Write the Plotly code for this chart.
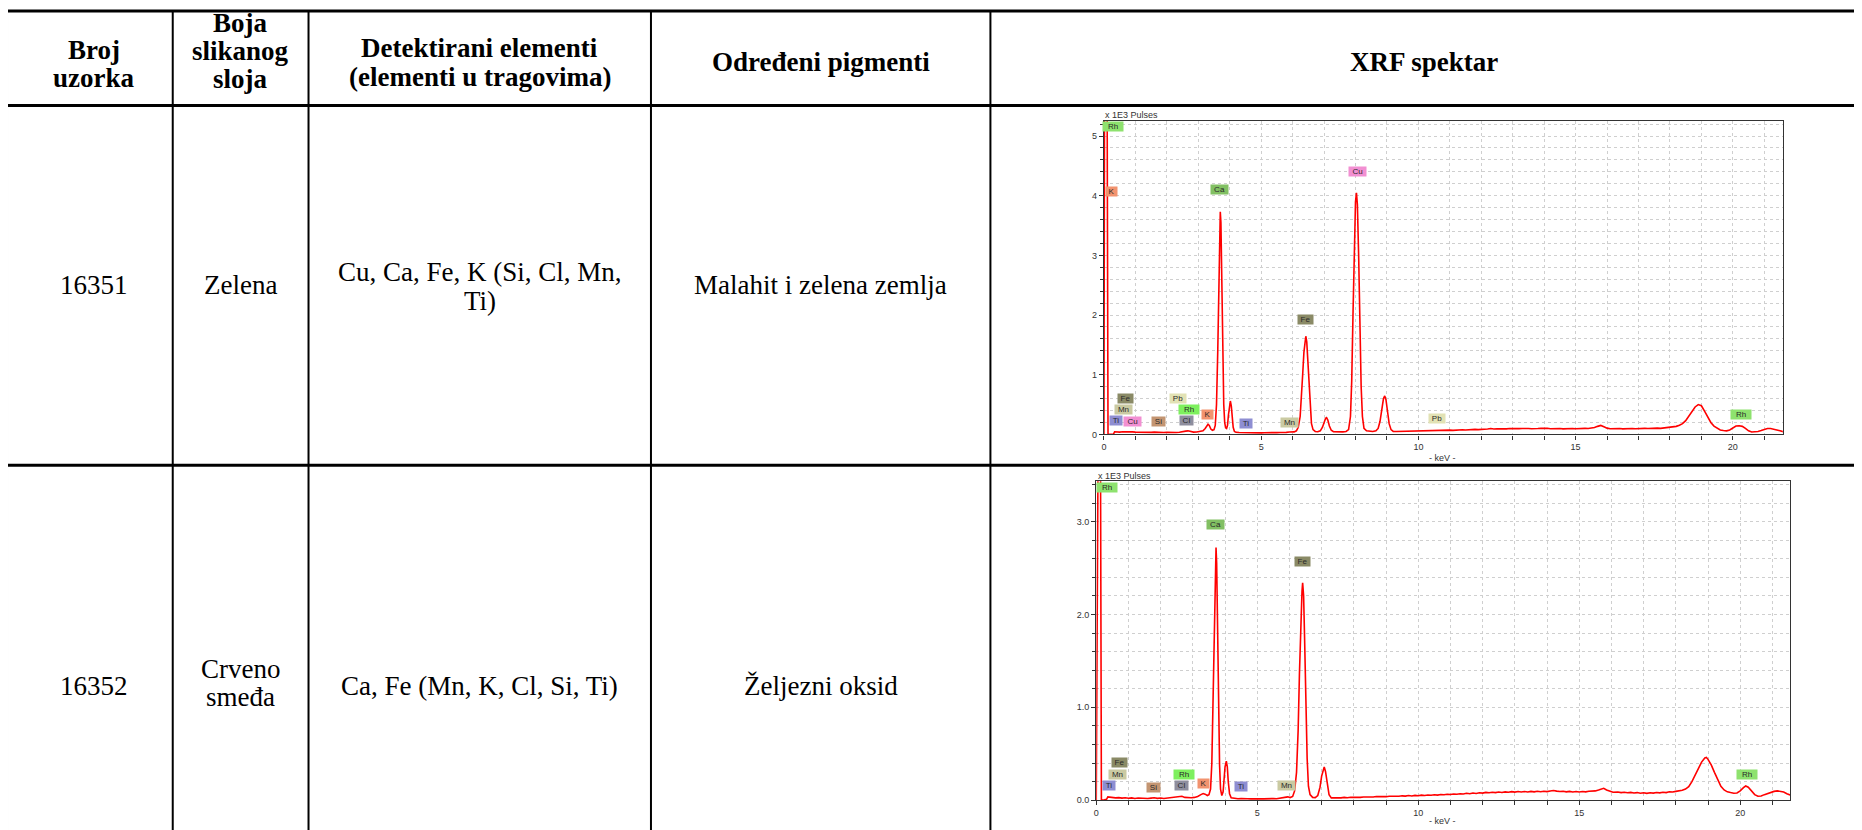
import plotly.graph_objects as go

# ---------------- data ----------------
table_header = ["Broj uzorka", "Boja slikanog sloja", "Detektirani elementi (elementi u tragovima)",
                "Određeni pigmenti", "XRF spektar"]
sample_ids = ["16351", "16352"]
layer_colours = ["Zelena", "Crveno smeđa"]
detected = ["Cu, Ca, Fe, K (Si, Cl, Mn, Ti)", "Ca, Fe (Mn, K, Cl, Si, Ti)"]
pigments = ["Malahit i zelena zemlja", "Željezni oksid"]

# spectrum 16351 (keV, x1E3 pulses)
s1_kev = [0.00, 0.02, 0.10, 0.13, 0.20, 0.30, 0.34,
          0.40, 0.50, 0.60, 0.70, 0.80, 0.90, 1.00, 1.10, 1.20, 1.30, 1.40, 1.50, 1.60, 1.70, 1.80, 1.90,
          2.00, 2.10, 2.20, 2.30, 2.40, 2.50, 2.60, 2.67, 2.75, 2.85, 2.95, 3.05, 3.15, 3.22, 3.28, 3.31,
          3.35, 3.40, 3.45, 3.50, 3.54, 3.58, 3.62, 3.65, 3.68, 3.70, 3.72, 3.75, 3.78, 3.81, 3.84, 3.87,
          3.90, 3.93, 3.96, 3.99, 4.02, 4.05, 4.08, 4.11, 4.15, 4.20, 4.30, 4.40, 4.50, 4.60, 4.70, 4.80,
          4.90, 5.00, 5.10, 5.20, 5.30, 5.40, 5.50, 5.60, 5.70, 5.80, 5.90, 5.98, 6.05, 6.12, 6.18, 6.24,
          6.28, 6.32, 6.36, 6.40, 6.42, 6.45, 6.48, 6.52, 6.56, 6.60, 6.65, 6.72, 6.80, 6.88, 6.95, 7.00,
          7.05, 7.08, 7.12, 7.17, 7.23, 7.30, 7.40, 7.50, 7.60, 7.70, 7.78, 7.84, 7.88, 7.92, 7.96, 8.00,
          8.03, 8.06, 8.10, 8.14, 8.18, 8.22, 8.27, 8.35, 8.45, 8.55, 8.65, 8.72, 8.78, 8.84, 8.89, 8.93,
          8.97, 9.02, 9.07, 9.13, 9.20, 9.30, 9.40, 9.50, 9.60, 9.70, 9.80, 9.90, 10.0, 10.1, 10.2, 10.3,
          10.4, 10.5, 10.6, 10.7, 10.8, 10.9, 11.0, 11.1, 11.2, 11.3, 11.4, 11.5, 11.6, 11.7, 11.8, 11.9,
          12.0, 12.1, 12.2, 12.3, 12.4, 12.5, 12.6, 12.7, 12.8, 12.9, 13.0, 13.1, 13.2, 13.3, 13.4, 13.5,
          13.6, 13.7, 13.8, 13.9, 14.0, 14.1, 14.2, 14.3, 14.4, 14.5, 14.6, 14.7, 14.8, 14.9, 15.0, 15.1,
          15.2, 15.3, 15.4, 15.5, 15.6, 15.7, 15.8, 15.9, 16.0, 16.1, 16.2, 16.3, 16.4, 16.5, 16.6, 16.7,
          16.8, 16.9, 17.0, 17.1, 17.2, 17.3, 17.4, 17.5, 17.6, 17.7, 17.8, 17.9, 18.0, 18.1, 18.2, 18.3,
          18.4, 18.5, 18.6, 18.7, 18.8, 18.9, 18.95, 19.0, 19.1, 19.2, 19.3, 19.4, 19.5, 19.6, 19.7, 19.8,
          19.9, 20.0, 20.1, 20.2, 20.3, 20.4, 20.5, 20.6, 20.7, 20.8, 20.9, 21.0, 21.1, 21.2, 21.3, 21.4,
          21.5, 21.6]
s1_cnt = [0.0, 6.0, 6.0, 0.0, 0.0, 0.0, 0.045,
          .042, .038, .045, .040, .036, .042, .038, .035, .040, .033, .037, .034, .038, .032, .036, .031,
          .035, .030, .034, .031, .036, .040, .055, .060, .045, .038, .040, .045, .060, .10, .15, .17,
          .15, .09, .07, .08, .15, .5, 1.4, 2.6, 3.5, 3.73, 3.55, 2.5, 1.3, .5, .2, .11,
          .10, .15, .33, .52, .56, .48, .28, .12, .05, .035, .032, .030, .033, .028, .031, .027,
          .030, .026, .029, .027, .031, .028, .030, .033, .031, .035, .040, .045, .042, .06, .12, .3,
          .6, 1.0, 1.38, 1.6, 1.645, 1.55, 1.25, .8, .4, .18, .08, .05, .045, .06, .12, .2,
          .27, .28, .24, .14, .07, .045, .04, .045, .042, .05, .08, .3, .9, 2.0, 3.2, 3.9,
          4.05, 3.85, 3.0, 1.8, .8, .3, .1, .06, .05, .05, .06, .1, .22, .45, .6, .645,
          .58, .38, .18, .08, .05, .048, .05, .046, .052, .049, .055, .051, .058, .054, .06, .057,
          .063, .06, .066, .062, .068, .065, .072, .068, .075, .07, .078, .074, .082, .078, .085, .08,
          .088, .084, .092, .098, .09, .096, .091, .098, .093, .1, .095, .102, .097, .1, .094, .1,
          .096, .103, .098, .104, .097, .102, .096, .1, .094, .099, .093, .098, .094, .1, .095, .1,
          .096, .101, .098, .105, .115, .135, .15, .13, .105, .095, .1, .094, .099, .093, .098, .094,
          .1, .095, .1, .096, .102, .098, .104, .1, .106, .102, .108, .105, .112, .12, .135, .155,
          .18, .23, .31, .39, .46, .5, .49, .48, .39, .29, .2, .14, .1, .075, .065, .06,
          .075, .11, .14, .145, .135, .1, .06, .04, .042, .05, .065, .085, .1, .098, .09, .075,
          .06, .045]

# spectrum 16352
s2_kev = [0.00, 0.06, 0.13, 0.16, 0.25, 0.32, 0.36, 0.45,
          0.5, 0.6, 0.7, 0.8, 0.9, 1.0, 1.1, 1.2, 1.3, 1.4, 1.5, 1.6, 1.7, 1.8, 1.9, 2.0, 2.1, 2.2, 2.3,
          2.4, 2.5, 2.6, 2.66, 2.75, 2.85, 2.95, 3.05, 3.15, 3.25, 3.32, 3.38, 3.45, 3.5, 3.55, 3.59, 3.63,
          3.66, 3.69, 3.72, 3.74, 3.77, 3.80, 3.83, 3.86, 3.9, 3.94, 3.97, 4.0, 4.04, 4.07, 4.1, 4.14, 4.19,
          4.3, 4.4, 4.5, 4.6, 4.7, 4.8, 4.9, 5.0, 5.1, 5.2, 5.3, 5.4, 5.5, 5.6, 5.7, 5.8, 5.9, 5.95,
          6.02, 6.1, 6.16, 6.22, 6.27, 6.31, 6.35, 6.39, 6.41, 6.44, 6.47, 6.51, 6.55, 6.59, 6.64, 6.72,
          6.80, 6.88, 6.95, 7.0, 7.05, 7.08, 7.12, 7.17, 7.23, 7.3, 7.4, 7.5, 7.6, 7.7, 7.8, 7.9,
          8.0, 8.1, 8.2, 8.3, 8.4, 8.5, 8.6, 8.7, 8.8, 8.9, 9.0, 9.1, 9.2, 9.3, 9.4, 9.5,
          9.6, 9.7, 9.8, 9.9, 10.0, 10.1, 10.2, 10.3, 10.4, 10.5, 10.6, 10.7, 10.8, 10.9, 11.0, 11.1,
          11.2, 11.3, 11.4, 11.5, 11.6, 11.7, 11.8, 11.9, 12.0, 12.1, 12.2, 12.3, 12.4, 12.5, 12.6, 12.7,
          12.8, 12.9, 13.0, 13.1, 13.2, 13.3, 13.4, 13.5, 13.6, 13.7, 13.8, 13.9, 14.0, 14.1, 14.2, 14.3,
          14.4, 14.5, 14.6, 14.7, 14.8, 14.9, 15.0, 15.1, 15.2, 15.3, 15.4, 15.5, 15.6, 15.7, 15.76, 15.85,
          15.95, 16.05, 16.2, 16.3, 16.4, 16.5, 16.6, 16.7, 16.8, 16.9, 17.0, 17.1, 17.2, 17.3, 17.4, 17.5,
          17.6, 17.7, 17.8, 17.9, 18.0, 18.1, 18.2, 18.3, 18.4, 18.5, 18.6, 18.7, 18.8, 18.9, 18.95, 19.0,
          19.1, 19.2, 19.3, 19.4, 19.5, 19.6, 19.7, 19.8, 19.9, 20.0, 20.1, 20.17, 20.25, 20.35, 20.45, 20.55,
          20.65, 20.75, 20.85, 20.95, 21.05, 21.15, 21.25, 21.35, 21.45, 21.55]
s2_cnt = [0.0, 4.0, 4.0, 0.0, 0.005, 0.01, 0.035, 0.03,
          .03, .025, .028, .022, .027, .021, .025, .019, .024, .02, .023, .018, .022, .026, .02, .024, .019, .023, .02,
          .025, .028, .038, .042, .03, .024, .026, .03, .04, .06, .072, .065, .05, .06, .12, .4, 1.1,
          1.9, 2.5, 2.72, 2.55, 1.8, .95, .38, .12, .05, .09, .22, .36, .42, .36, .2, .07, .025,
          .018, .015, .017, .013, .016, .014, .017, .013, .016, .014, .017, .015, .018, .016, .019, .022, .033, .036,
          .028, .04, .1, .3, .75, 1.35, 1.9, 2.25, 2.34, 2.2, 1.75, 1.05, .45, .15, .06, .03,
          .028, .05, .14, .26, .34, .357, .31, .17, .06, .025, .024, .028, .025, .03, .026, .031,
          .028, .033, .03, .035, .032, .037, .034, .039, .036, .041, .038, .043, .04, .045, .042, .047,
          .044, .05, .046, .052, .048, .054, .05, .056, .053, .059, .055, .061, .058, .064, .061, .067,
          .064, .07, .067, .074, .07, .077, .073, .08, .076, .084, .08, .086, .082, .088, .083, .09,
          .085, .092, .087, .093, .088, .094, .089, .095, .09, .096, .091, .097, .092, .1, .105, .098,
          .093, .097, .09, .095, .089, .094, .088, .094, .09, .096, .095, .1, .11, .122, .128, .11,
          .095, .085, .088, .082, .086, .08, .084, .078, .082, .075, .08, .074, .08, .076, .083, .079,
          .086, .082, .09, .088, .095, .1, .108, .12, .145, .2, .27, .34, .41, .455, .46, .44,
          .38, .3, .22, .15, .11, .09, .082, .075, .078, .1, .135, .153, .14, .1, .06, .043,
          .045, .06, .072, .085, .095, .1, .095, .088, .07, .055]

# element tags (label, keV, height)
tags1_el = ["Rh", "K", "Ca", "Cu", "Fe", "Fe", "Mn", "Ti", "Cu", "Si", "Pb", "Rh", "Cl", "K", "Ti", "Mn", "Pb", "Rh"]
tags1_kev = [0.29, 0.24, 3.67, 8.05, 6.40, 0.69, 0.62, 0.39, 0.92, 1.73, 2.36, 2.70, 2.64, 3.30, 4.52, 5.89, 10.58, 20.25]
tags1_val = [5.16, 4.07, 4.10, 4.41, 1.92, 0.61, 0.42, 0.24, 0.21, 0.21, 0.61, 0.42, 0.24, 0.33, 0.18, 0.20, 0.27, 0.33]
tags2_el = ["Rh", "Ca", "Fe", "Fe", "Mn", "Ti", "Si", "Rh", "Cl", "K", "Ti", "Mn", "Rh"]
tags2_kev = [0.32, 3.70, 6.42, 0.71, 0.66, 0.41, 1.78, 2.71, 2.65, 3.33, 4.51, 5.91, 20.20]
tags2_val = [3.37, 2.97, 2.57, 0.41, 0.28, 0.153, 0.139, 0.28, 0.153, 0.178, 0.146, 0.153, 0.28]

# ---------------- styling ----------------
W, H = 1862, 830
OFF = 8  # default page body margin
def fx(p):
    return (p - OFF) / W
def fy(p):
    return 1 - (p - OFF) / H

tag_style = {
    "Rh": ("#8ee26e", 20), "Ca": ("#82c063", 17), "Cu": ("#f28fd2", 17), "K": ("#f2936f", 11),
    "Fe": ("#8a8a66", 15), "Mn": ("#cacaa2", 17), "Ti": ("#8e8ed2", 12), "Si": ("#c39572", 13),
    "Pb": ("#e2e2b4", 16), "Cl": ("#8e8e9e", 13),
}
low_rh = "#7ef05e"

fig = go.Figure()
fig.add_trace(go.Scatter(x=s1_kev, y=s1_cnt, mode="lines", line=dict(color="#ff0000", width=1.6),
                         xaxis="x", yaxis="y", showlegend=False, hoverinfo="skip"))
fig.add_trace(go.Scatter(x=s2_kev, y=s2_cnt, mode="lines", line=dict(color="#ff0000", width=1.6),
                         xaxis="x2", yaxis="y2", showlegend=False, hoverinfo="skip"))

grid = "#cfcfcf"
tickfont = dict(family="Liberation Sans, Arial", size=9, color="#333")
def xax(domain, rng, anchor):
    return dict(domain=domain, range=rng, anchor=anchor, tick0=0, dtick=5, ticks="outside", ticklen=4,
                tickcolor="#333", tickfont=tickfont, showline=True, linecolor="#333", linewidth=1.2,
                mirror=True, showgrid=True, gridcolor=grid, griddash="dot", zeroline=False, fixedrange=True,
                minor=dict(dtick=1, tick0=0, ticks="outside", ticklen=4, tickcolor="#333",
                           showgrid=True, gridcolor=grid, griddash="dot"))
def yax(domain, rng, anchor, dtick, fmt):
    return dict(domain=domain, range=rng, anchor=anchor, tick0=0, dtick=dtick, tickformat=fmt,
                ticks="outside", ticklen=4, tickcolor="#333", tickfont=tickfont, showline=True,
                linecolor="#333", linewidth=1.2, mirror=True, showgrid=True, gridcolor=grid, griddash="dot",
                zeroline=False, fixedrange=True,
                minor=dict(dtick=0.2, tick0=0, ticks="outside", ticklen=3, tickcolor="#333",
                           showgrid=True, gridcolor=grid, griddash="dot"))

fig.update_layout(
    width=W, height=H, margin=dict(l=0, r=0, t=0, b=0), paper_bgcolor="white", plot_bgcolor="white",
    xaxis=xax([fx(1102.7), fx(1782.7)], [0, 21.59], "y"),
    yaxis=yax([fy(437), fy(121.5)], [0, 5.255], "x", 1, "d"),
    xaxis2=xax([fx(1095), fx(1790)], [0, 21.55], "y2"),
    yaxis2=yax([fy(805), fy(484)], [0, 3.436], "x2", 1, ".1f"),
)

shapes = []
# table borders
LEFT = 4
for yy in [11, 106, 468]:
    shapes.append(dict(type="line", xref="paper", yref="paper", x0=fx(LEFT), x1=1, y0=fy(yy), y1=fy(yy),
                       line=dict(color="black", width=3)))
for xx in [LEFT, 170, 306, 649, 989]:
    shapes.append(dict(type="line", xref="paper", yref="paper", x0=fx(xx), x1=fx(xx), y0=fy(11), y1=0,
                       line=dict(color="black", width=2)))
fig.update_layout(shapes=shapes)

ann = []
serif = "Liberation Serif, Times New Roman"
def txt(s, x, y, bold=False, size=27):
    ann.append(dict(text=("<b>%s</b>" % s) if bold else s, x=fx(x), y=fy(y), xref="paper", yref="paper",
                    showarrow=False, xanchor="center", yanchor="middle",
                    font=dict(family=serif, size=size, color="black")))

c1, c2, c3, c4, c5 = 91, 238, 477.5, 819, 1423
# header
txt("Broj", c1, 50, True); txt("uzorka", c1, 78, True)
txt("Boja", c2, 23, True); txt("slikanog", c2, 51, True); txt("sloja", c2, 79, True)
txt("Detektirani elementi", c3, 48.5, True); txt("(elementi u tragovima)", c3, 77, True)
txt(table_header[3], c4, 62, True)
txt(table_header[4], c5, 62, True)
# row 1
txt(sample_ids[0], c1, 287); txt(layer_colours[0], c2, 287)
txt("Cu, Ca, Fe, K (Si, Cl, Mn,", c3, 274); txt("Ti)", c3, 302.5)
txt(pigments[0], c4, 287)
# row 2
txt(sample_ids[1], c1, 690); txt("Crveno", c2, 673); txt("smeđa", c2, 701.5)
txt(detected[1], c3, 690); txt(pigments[1], c4, 690)

small = dict(family="Liberation Sans, Arial", size=9, color="#333")
for (x, y) in [(1102, 115.5), (1095, 478.5)]:
    ann.append(dict(text="x 1E3 Pulses", x=fx(x), y=fy(y), xref="paper", yref="paper", showarrow=False,
                    xanchor="left", yanchor="middle", font=small))
for (x, y) in [(1442, 461), (1442, 826)]:
    ann.append(dict(text="- keV -", x=fx(x), y=fy(y), xref="paper", yref="paper", showarrow=False,
                    xanchor="center", yanchor="middle", font=small))

def tags(els, kevs, vals, xr, yr, low_rh_idx):
    for i, (e, k, v) in enumerate(zip(els, kevs, vals)):
        col, w = tag_style[e]
        if i in low_rh_idx:
            col = low_rh
        ann.append(dict(text=e, x=k, y=v, xref=xr, yref=yr, showarrow=False, xanchor="center",
                        yanchor="middle", bgcolor=col, width=w, height=9, borderpad=0,
                        font=dict(family="Liberation Sans, Arial", size=8, color="#2a2a2a")))

tags(tags1_el, tags1_kev, tags1_val, "x", "y", {11})
tags(tags2_el, tags2_kev, tags2_val, "x2", "y2", {7})
fig.update_layout(annotations=ann)

fig.write_html("out.html")
